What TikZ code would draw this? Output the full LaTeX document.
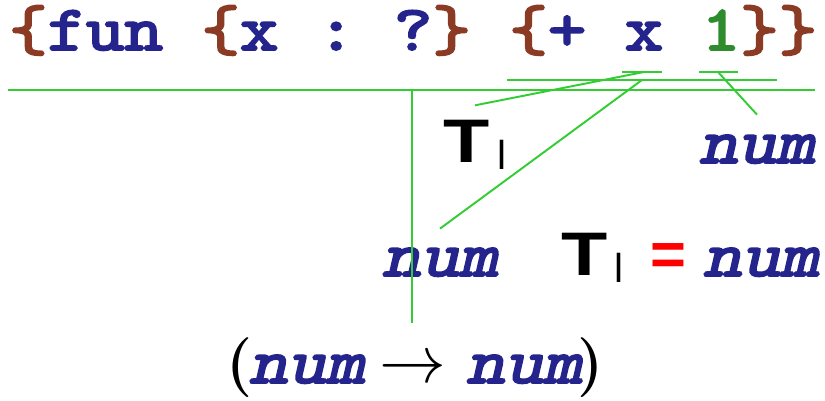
\documentclass[tikz,border=0pt]{standalone}
\usepackage{fontspec}
\usepackage{graphicx}
\usepackage{xcolor}
\usetikzlibrary{positioning}
\newfontfamily\codefont{lmmono10-regular.otf}[FakeBold=3]
\newfontfamily\codeslfont{lmmono10-regular.otf}[FakeBold=3, FakeSlant=0.2]
\newfontfamily\sansfont{Liberation Sans}
\definecolor{brace}{HTML}{8B3A24}
\definecolor{navy}{HTML}{24248C}
\definecolor{litgreen}{HTML}{2E8B2E}
\definecolor{treegreen}{HTML}{33CC33}
\newcommand{\csp}{\hspace{0.6734cm}}
\newcommand{\numty}{\scalebox{1.143}[1]{\codeslfont\fontsize{36.5}{40}\selectfont\color{navy}num}}
\newcommand{\tenv}{{\sansfont\fontsize{35}{40}\selectfont\bfseries\scalebox{1.23}[1]{T}\hspace{0.14cm}\raisebox{-0.14cm}{\fontsize{23}{25}\selectfont\mdseries l}}}

\begin{document}
\begin{tikzpicture}[
  x=0.02cm, y=-0.02cm,
  tree/.style={draw=treegreen, line width=1.1pt},
  lbl/.style={inner sep=0.44cm, anchor=base}
]
\useasboundingbox (0,0) rectangle (825,401);

% the expression
\node[inner sep=0, anchor=base west] (code) at (8.75,50)
  {\scalebox{1.143}[1]{\codefont\fontsize{36.5}{40}\selectfont
   \textcolor{brace}{\{}\textcolor{navy}{fun}\csp\textcolor{brace}{\{}\textcolor{navy}{x}\csp\textcolor{navy}{:}\csp\textcolor{navy}{?}\textcolor{brace}{\}}\csp\textcolor{brace}{\{}\textcolor{navy}{+}\csp\textcolor{navy}{x}\csp\textcolor{litgreen}{1}\textcolor{brace}{\}\}}}};

% bars under the parts
\coordinate (rootL) at (8,90);
\coordinate (rootR) at (815,90);
\coordinate (root)  at (412,90);
\coordinate (bodyL) at (507,80);
\coordinate (bodyR) at (777,80);
\coordinate (body)  at (642,80);
\coordinate (xL)    at (622,72);
\coordinate (xR)    at (662,72);
\coordinate (xmid)  at (644,72);
\coordinate (oneL)  at (699,72);
\coordinate (oneR)  at (738,72);
\coordinate (onemid) at (718,72);

\draw[tree] (rootL) -- (rootR);
\draw[tree] (bodyL) -- (bodyR);
\draw[tree] (xL) -- (xR);
\draw[tree] (oneL) -- (oneR);

% types
\node[lbl, inner sep=0.3cm] (tlx)  at (475,163) {\tenv};
\node[lbl, inner sep=0.4cm] (none) at (757,163) {\numty};
\node[lbl, inner sep=0.38cm] (nbody) at (440,276) {\numty};
\node[anchor=base west, inner sep=0] (tlb) at (561,276) {\tenv};
\node[anchor=base, inner sep=0] (eq) at (668,276) {\sansfont\bfseries\fontsize{35}{40}\selectfont\color{red}=};
\node[anchor=base, inner sep=0] (nres) at (761,276) {\numty};
\node[lbl, inner sep=0.3cm] (fty) at (415,383)
  {\fontsize{34}{40}\selectfont\bfseries(\hspace{-0.06cm}\numty\hspace{0.3cm}\scalebox{3.8}{\normalsize$\rightarrow$}\hspace{0.4cm}\numty\hspace{-0.08cm})};

\draw[tree] (xmid) -- (tlx.north);
\draw[tree] (body) -- (nbody.north);
\draw[tree] (onemid) -- (none.north);
\draw[tree] (root) -- (root |- fty.north);
\end{tikzpicture}
\end{document}
